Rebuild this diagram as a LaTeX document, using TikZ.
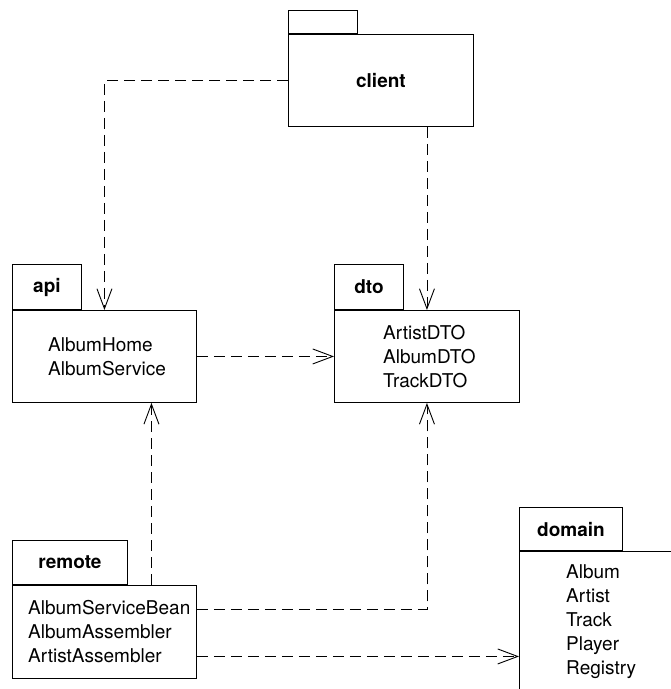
\documentclass[tikz,border=0pt]{standalone}
\usepackage{fontspec}
\setmainfont{TeX Gyre Heros}
\usepackage{tikz}
\usetikzlibrary{arrows.meta}

\begin{document}
\begin{tikzpicture}[x=1pt, y=1pt, font=\fontsize{19}{24}\selectfont,
        body/.style = {draw, rectangle, line width=0.9pt, inner sep=0pt, minimum height=92pt, anchor=north west},
        tab/.style = {draw, rectangle, line width=0.9pt, inner sep=0pt, anchor=south west, font=\fontsize{19}{24}\selectfont\bfseries},
        classes/.style = {anchor=west, align=left, inner sep=0pt},
        dep/.style = {line width=0.9pt, dash pattern=on 11pt off 6pt, -{Straight Barb[length=20pt,width=15pt,line width=0.9pt]}}]
            \useasboundingbox (0,0) rectangle (671,689);
            \clip (0,0) rectangle (671,689);

            \node[body, minimum width=185pt] (client) at (288,655) {};
            \node[tab, minimum width=69pt, minimum height=23pt] (clienttab) at (client.north west) {};
            \node[font=\fontsize{19}{24}\selectfont\bfseries] (clientname) at (client.center) {client};

            \node[body, minimum width=184pt] (api) at (12,379) {};
            \node[tab, minimum width=69pt, minimum height=45pt] (apitab) at (api.north west) {api};
            \node[classes] (apilist) at ([xshift=36pt]api.west) {AlbumHome\\AlbumService};

            \node[body, minimum width=185pt] (dto) at (334,379) {};
            \node[tab, minimum width=69pt, minimum height=45pt] (dtotab) at (dto.north west) {dto};
            \node[classes] (dtolist) at ([xshift=49pt]dto.west) {ArtistDTO\\AlbumDTO\\TrackDTO};

            \node[body, minimum width=184pt, minimum height=93pt] (remote) at (12,104) {};
            \node[tab, minimum width=115pt, minimum height=44pt] (remotetab) at (remote.north west) {remote};
            \node[classes] (remotelist) at ([xshift=16pt]remote.west) {AlbumServiceBean\\AlbumAssembler\\ArtistAssembler};

            \node[body, minimum width=190pt, minimum height=140pt] (domain) at (519,138) {};
            \node[tab, minimum width=103pt, minimum height=43pt] (domaintab) at (domain.north west) {domain};
            \node[classes] (domainlist) at ([xshift=47pt]domain.west) {Album\\Artist\\Track\\Player\\Registry};

            \coordinate (beanrow) at ([yshift=22.5pt]remote.east);
            \coordinate (asmrow) at ([yshift=-24.5pt]remote.east);
            \coordinate (remotetop) at ([xshift=47pt]remote.north);

            \draw[dep] (client.west) -| (api.north);
            \path[dep] (client.south -| dto.north) edge (dto.north);
            \path[dep] (api.east) edge (dto.west);
            \path[dep] (remotetop) edge (remotetop |- api.south);
            \draw[dep] (beanrow) -| (dto.south);
            \path[dep] (asmrow) edge (asmrow -| domain.west);
        \end{tikzpicture}
\end{document}
